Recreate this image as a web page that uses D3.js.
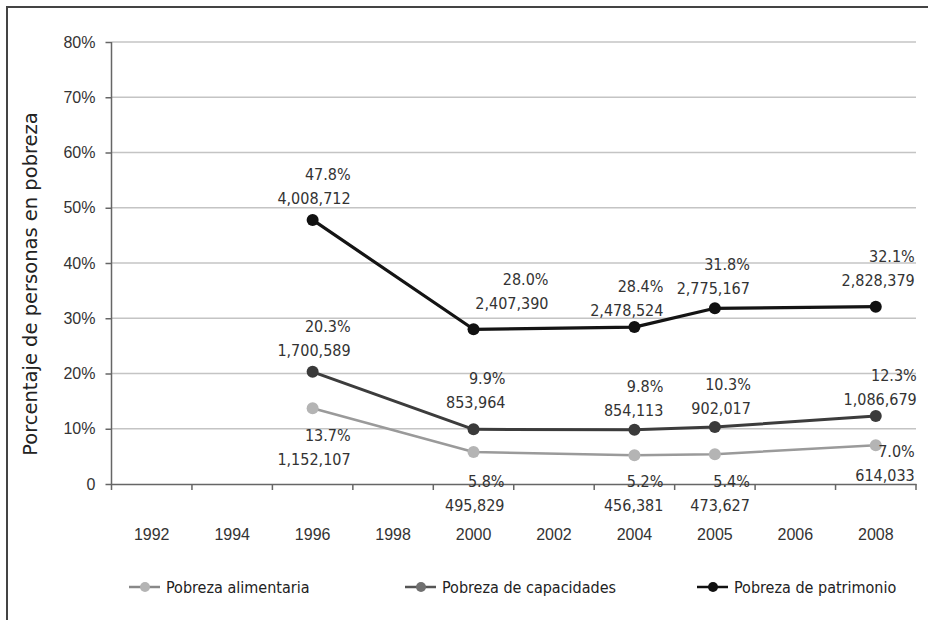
<!DOCTYPE html>
<html><head><meta charset="utf-8">
<script src="https://cdn.jsdelivr.net/npm/d3@7"></script>
<style>
html,body{margin:0;padding:0;background:#fff;}
svg{display:block;font-family:"DejaVu Sans Condensed","Liberation Sans Narrow","DejaVu Sans",sans-serif;}
</style></head>
<body>
<svg id="chart" width="928" height="620"></svg>
<script>
// ---- data ----
const years = ["1992","1994","1996","1998","2000","2002","2004","2005","2006","2008"];
const pointYears = ["1996","2000","2004","2005","2008"];
const yTicks = [0,10,20,30,40,50,60,70,80];
const yTickLabels = ["0","10%","20%","30%","40%","50%","60%","70%","80%"];
const seriesNames = ["Pobreza alimentaria","Pobreza de capacidades","Pobreza de patrimonio"];
const alimentaria = [13.7, 5.8, 5.2, 5.4, 7.0];
const alimentariaPersonas = ["1,152,107","495,829","456,381","473,627","614,033"];
const capacidades = [20.3, 9.9, 9.8, 10.3, 12.3];
const capacidadesPersonas = ["1,700,589","853,964","854,113","902,017","1,086,679"];
const patrimonio = [47.8, 28.0, 28.4, 31.8, 32.1];
const patrimonioPersonas = ["4,008,712","2,407,390","2,478,524","2,775,167","2,828,379"];
const yTitle = "Porcentaje de personas en pobreza";

// ---- layout (label placement: right-edge dx, first-line dy from the point) ----
const labelOffsets = [
  [[38,27],[31,29],[29,26],[35,27],[39,6]],
  [[38,-46],[32,-51],[29,-44],[36,-43],[41,-41]],
  [[38,-46],[75,-50],[29,-41],[35,-44],[39,-51]]
];
const styles = [
  {line:"#9a9a9a", width:2.5, dot:"#b4b4b4", legendLine:"#888"},
  {line:"#3c3c3c", width:3, dot:"#3a3a3a", legendLine:"#555", legendDot:"#707070"},
  {line:"#141414", width:3.2, dot:"#111", legendLine:"#111"}
];

const svg = d3.select("#chart");
// frame
svg.append("rect").attr("x",7).attr("y",7).attr("width",940).attr("height",640)
  .attr("fill","none").attr("stroke","#444").attr("stroke-width",2);

const x = d3.scaleBand().domain(years).range([111.5, 916]);
const y = d3.scaleLinear().domain([0,80]).range([484, 42]);

// gridlines
svg.append("g").selectAll("line").data(yTicks.filter(d=>d>0)).join("line")
  .attr("x1",111.5).attr("x2",916).attr("y1",d=>y(d)).attr("y2",d=>y(d))
  .attr("stroke","#c4c4c4").attr("stroke-width",1.5);

// y axis
const yAxis = svg.append("g").attr("transform","translate(111.5,0)")
  .call(d3.axisLeft(y).tickValues(yTicks).tickFormat((d,i)=>yTickLabels[i]).tickSize(6).tickPadding(10).tickSizeOuter(0));
yAxis.select(".domain").attr("stroke","#666").attr("stroke-width",1.5);
yAxis.selectAll(".tick line").attr("stroke","#666").attr("stroke-width",1.5);
yAxis.selectAll("text").attr("font-size",16).attr("fill","#333").attr("font-family","inherit");
yAxis.select(".domain").attr("d","M0,42V490");

// x axis
const xAxis = svg.append("g").attr("transform","translate(0,484)")
  .call(d3.axisBottom(x).tickSize(0).tickPadding(45));
xAxis.select(".domain").attr("stroke","#666").attr("stroke-width",1.5);
xAxis.selectAll("text").attr("font-size",16).attr("fill","#333").attr("font-family","inherit");
const bounds = years.map(d=>x(d)).concat([x(years[years.length-1])+x.bandwidth()]);
svg.append("g").selectAll("line").data(bounds.slice(1)).join("line")
  .attr("x1",d=>d).attr("x2",d=>d).attr("y1",484).attr("y2",490)
  .attr("stroke","#666").attr("stroke-width",1.5);

// y title
svg.append("text").attr("transform","translate(37,284) rotate(-90)")
  .attr("text-anchor","middle").attr("font-size",19.5).attr("fill","#222")
  .attr("font-family","DejaVu Sans, sans-serif").text(yTitle);

const cx = d => x(d) + x.bandwidth()/2;
const series = [
  {vals:alimentaria, ppl:alimentariaPersonas},
  {vals:capacidades, ppl:capacidadesPersonas},
  {vals:patrimonio, ppl:patrimonioPersonas}
];
const line = d3.line().x(d=>cx(d[0])).y(d=>y(d[1])).curve(d3.curveLinear);

series.forEach((s,si)=>{
  const pts = pointYears.map((yr,i)=>[yr,s.vals[i]]);
  const g = svg.append("g");
  g.append("path").attr("d",line(pts)).attr("fill","none")
    .attr("stroke",styles[si].line).attr("stroke-width",styles[si].width).attr("stroke-linejoin","round");
  g.selectAll("circle").data(pts).join("circle")
    .attr("cx",d=>cx(d[0])).attr("cy",d=>y(d[1])).attr("r",6)
    .attr("fill",styles[si].dot);
  const lab = g.selectAll("text").data(pts).join("text")
    .attr("text-anchor","end").attr("font-size",16).attr("fill","#333")
    .attr("x",(d,i)=>cx(d[0])+labelOffsets[si][i][0])
    .attr("y",(d,i)=>y(d[1])+labelOffsets[si][i][1]+6);
  lab.append("tspan").text(d=>d[1].toFixed(1)+"%");
  lab.append("tspan").attr("x",(d,i)=>cx(d[0])+labelOffsets[si][i][0]).attr("dy",24)
    .text((d,i)=>s.ppl[i]);
});

// legend
const legendX = [129, 405, 697];
const lg = svg.append("g");
seriesNames.forEach((n,i)=>{
  const g = lg.append("g").attr("transform",`translate(${legendX[i]},587)`);
  g.append("line").attr("x1",0).attr("x2",31).attr("y1",0).attr("y2",0)
    .attr("stroke",styles[i].legendLine).attr("stroke-width",2.5);
  g.append("circle").attr("cx",16).attr("cy",0).attr("r",5).attr("fill",styles[i].legendDot||styles[i].dot);
  g.append("text").attr("x",37).attr("y",6).attr("font-size",16).attr("fill","#222").text(n);
});
</script>
</body></html>
